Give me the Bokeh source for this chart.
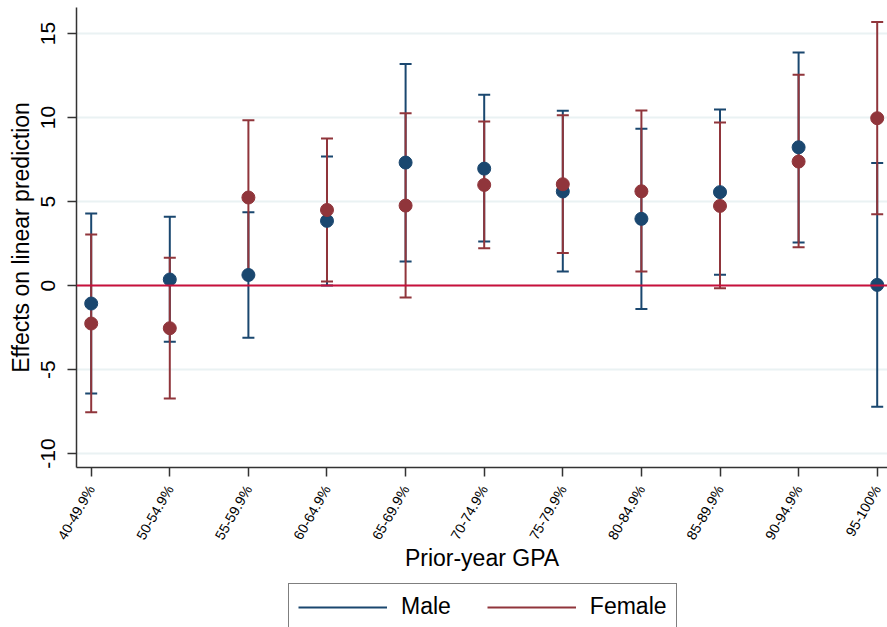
import numpy as np
from bokeh.plotting import figure
from bokeh.layouts import column
from bokeh.models import (Range1d, FixedTicker, Span, Legend, LegendItem, ColumnDataSource)
from bokeh.embed import file_html
from bokeh.resources import INLINE

categories = ["40-49.9%", "50-54.9%", "55-59.9%", "60-64.9%", "65-69.9%", "70-74.9%",
              "75-79.9%", "80-84.9%", "85-89.9%", "90-94.9%", "95-100%"]
male_est = [-1.07, 0.36, 0.63, 3.85, 7.32, 6.96, 5.60, 3.97, 5.56, 8.23, 0.04]
male_lo = [-6.43, -3.35, -3.10, 0.00, 1.43, 2.62, 0.83, -1.39, 0.65, 2.56, -7.22]
male_hi = [4.29, 4.09, 4.37, 7.68, 13.19, 11.35, 10.40, 9.33, 10.48, 13.87, 7.30]
female_est = [-2.26, -2.54, 5.24, 4.50, 4.76, 5.99, 6.03, 5.61, 4.74, 7.38, 9.96]
female_lo = [-7.54, -6.73, 0.65, 0.24, -0.71, 2.22, 1.94, 0.83, -0.16, 2.28, 4.25]
female_hi = [3.04, 1.65, 9.84, 8.75, 10.26, 9.76, 10.14, 10.42, 9.70, 12.54, 15.69]
y_ticks = [-10, -5, 0, 5, 10, 15]
y_tick_labels = ["-10", "-5", "0", "5", "10", "15"]
series_names = ["Male", "Female"]

MALE = "#1a476f"
FEMALE = "#90353b"
FONT = "Liberation Sans"

xs = list(range(1, len(categories) + 1))

p = figure(width=887, height=580, output_backend="svg", toolbar_location=None,
           x_range=Range1d(0.813, 11.131), y_range=Range1d(-10.83, 16.55),
           min_border_left=76, min_border_right=0, min_border_top=7, min_border_bottom=113)
p.outline_line_color = None
p.background_fill_color = "white"
p.border_fill_color = "white"

p.xgrid.visible = False
p.ygrid.grid_line_color = "#eaf2f3"
p.ygrid.grid_line_width = 2
p.yaxis.ticker = FixedTicker(ticks=y_ticks)
p.yaxis.major_label_overrides = {t: s for t, s in zip(y_ticks, y_tick_labels)}
p.xaxis.ticker = FixedTicker(ticks=xs)
p.xaxis.major_label_overrides = {x: c for x, c in zip(xs, categories)}

for ax in (p.xaxis[0], p.yaxis[0]):
    ax.axis_line_color = "#333333"
    ax.axis_line_width = 1.5
    ax.major_tick_line_color = "#333333"
    ax.major_tick_line_width = 1.5
    ax.major_tick_out = 9
    ax.major_tick_in = 0
    ax.minor_tick_line_color = None
    ax.major_label_text_font = FONT
    ax.axis_label_text_font = FONT
    ax.axis_label_text_font_style = "normal"
    ax.axis_label_text_font_size = "23px"
    ax.major_label_text_color = "black"
    ax.axis_label_text_color = "black"

p.yaxis.axis_label = "Effects on linear prediction"
p.yaxis.major_label_orientation = "vertical"
p.yaxis.major_label_text_font_size = "21px"
p.yaxis.major_label_standoff = 12
p.yaxis.axis_label_standoff = 5

p.xaxis.axis_label = "Prior-year GPA"
p.xaxis.major_label_orientation = np.pi / 3
p.xaxis.major_label_text_font_size = "14px"
p.xaxis.major_label_standoff = 10
p.xaxis.axis_label_standoff = -4

p.add_layout(Span(location=0, dimension="width", line_color="#c8103c", line_width=2))

male_src = ColumnDataSource(dict(x=xs, est=male_est, lo=male_lo, hi=male_hi))
female_src = ColumnDataSource(dict(x=xs, est=female_est, lo=female_lo, hi=female_hi))

for src, col in ((male_src, MALE), (female_src, FEMALE)):
    p.segment(x0="x", y0="lo", x1="x", y1="hi", source=src, line_color=col, line_width=2)
    p.scatter(x="x", y="lo", source=src, marker="dash", size=12, line_color=col, line_width=2)
    p.scatter(x="x", y="hi", source=src, marker="dash", size=12, line_color=col, line_width=2)

for src, col in ((male_src, MALE), (female_src, FEMALE)):
    p.scatter(x="x", y="est", source=src, marker="circle", size=13, fill_color=col, line_color=col)

# legend strip below the chart
p2 = figure(width=887, height=47, output_backend="svg", toolbar_location=None,
            x_range=Range1d(0, 1), y_range=Range1d(0, 1),
            min_border_left=0, min_border_right=0, min_border_top=0, min_border_bottom=0)
p2.axis.visible = False
p2.grid.visible = False
p2.outline_line_color = None
p2.border_fill_color = "white"
items = []
for name, col in zip(series_names, (MALE, FEMALE)):
    r = p2.segment(x0=[5.0], y0=[5.0], x1=[6.0], y1=[5.0], line_color=col, line_width=2)
    items.append(LegendItem(label=name, renderers=[r]))

legend = Legend(items=items, orientation="horizontal", location=(212, -3))
legend.glyph_width = 89
legend.glyph_height = 20
legend.label_standoff = 14
legend.spacing = 36
legend.padding = 9
legend.margin = 0
legend.border_line_color = "black"
legend.border_line_width = 1.2
legend.label_text_font = FONT
legend.label_text_font_size = "23px"
legend.label_text_color = "black"
legend.background_fill_alpha = 1.0
p2.add_layout(legend, "center")

layout = column(p, p2, spacing=0)
open("out.html", "w").write(file_html(layout, INLINE))
